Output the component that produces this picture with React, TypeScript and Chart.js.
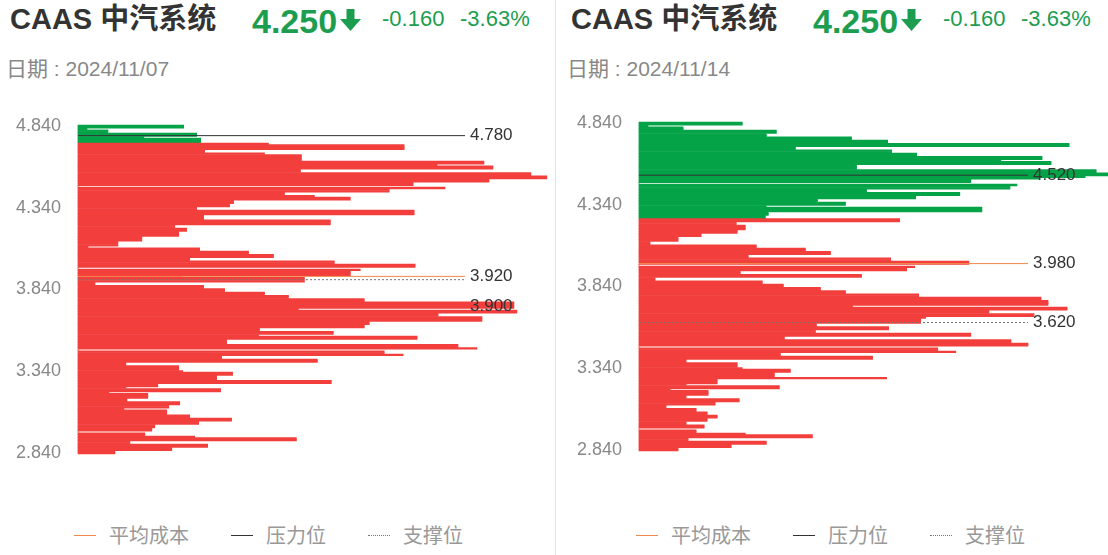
import React, { useEffect, useRef } from 'react';
import Chart from 'chart.js/auto';

// price levels run from the top row (4.84) down in steps of 0.01
const priceTop = 4.84;
const priceStep = 0.01;
const priceTicks = [2.84, 3.34, 3.84, 4.34, 4.84];
const levelNames = ['平均成本', '压力位', '支撑位'];

const stockName = 'CAAS 中汽系统';
const lastPrice = '4.250';
const priceChange = '-0.160';
const pctChange = '-3.63%';

// left panel, 2024/11/07
const leftDate = '2024/11/07';
const leftLevels = [3.92, 4.78, 3.9];
const leftSplit = 4.735;
const leftChips = [
  106, 106, 9, 30, 30, 119, 119, 66, 123, 123,
  123, 191, 327, 327, 327, 127, 127, 187, 224, 224,
  224, 224, 407, 407, 360, 416, 416, 223, 223, 454,
  454, 470, 470, 412, 412, 336, 336, 0, 368, 312,
  312, 207, 207, 237, 273, 273, 156, 156, 152, 152,
  119, 119, 337, 337, 337, 126, 126, 126, 253, 253,
  253, 97, 97, 109, 109, 101, 101, 101, 64, 64,
  64, 40, 40, 40, 10, 122, 122, 171, 171, 196,
  196, 112, 112, 257, 257, 338, 338, 0, 283, 273,
  273, 273, 104, 227, 227, 227, 17, 17, 126, 126,
  147, 147, 187, 187, 211, 211, 287, 287, 437, 437,
  437, 437, 221, 440, 440, 361, 361, 405, 405, 405,
  292, 292, 287, 287, 182, 182, 256, 256, 181, 340,
  340, 149, 149, 149, 381, 381, 400, 0, 307, 307,
  326, 144, 144, 240, 240, 48, 48, 101, 101, 101,
  105, 155, 155, 139, 139, 139, 254, 254, 80, 80,
  48, 143, 143, 31, 70, 70, 70, 49, 49, 102,
  102, 91, 91, 46, 89, 89, 89, 112, 112, 154,
  154, 121, 121, 77, 77, 74, 74, 0, 67, 67,
  117, 219, 219, 52, 52, 130, 130, 94, 94, 37,
  37,
];

// right panel, 2024/11/14
const rightDate = '2024/11/14';
const rightLevels = [3.98, 4.52, 3.62];
const rightSplit = 4.255;
const rightChips = [
  103, 103, 9, 44, 44, 137, 137, 127, 127, 212,
  212, 248, 248, 429, 429, 156, 156, 252, 252, 277,
  277, 402, 402, 361, 411, 411, 217, 217, 217, 456,
  456, 475, 475, 445, 400, 331, 331, 0, 377, 370,
  370, 227, 227, 320, 320, 276, 276, 178, 178, 206,
  206, 127, 342, 342, 342, 129, 129, 126, 126, 260,
  260, 97, 97, 106, 106, 106, 98, 98, 62, 62,
  39, 39, 39, 11, 11, 117, 117, 166, 166, 191,
  191, 109, 109, 251, 251, 329, 329, 0, 275, 267,
  267, 101, 101, 222, 222, 16, 16, 123, 123, 144,
  144, 181, 181, 206, 206, 279, 279, 401, 401, 408,
  408, 408, 213, 427, 427, 349, 349, 394, 394, 286,
  281, 281, 281, 177, 177, 249, 249, 176, 176, 331,
  331, 145, 145, 371, 371, 388, 388, 0, 298, 298,
  316, 141, 141, 233, 233, 47, 47, 98, 98, 98,
  103, 151, 151, 135, 135, 135, 247, 78, 78, 78,
  47, 140, 140, 31, 69, 69, 69, 47, 47, 100,
  100, 76, 76, 27, 27, 57, 57, 68, 68, 78,
  78, 68, 68, 47, 47, 65, 65, 0, 57, 57,
  106, 173, 173, 49, 49, 127, 127, 92, 92, 39,
  39,
];

const VOL_MAX = 388;
const GREEN = '#04a348';
const RED = '#f23f3c';
const TEXT_GREEN = '#1c9d4f';
const LINE_COLORS = ['#f0884c', '#333333', '#777777'];
const NUM_FONT = '"Liberation Sans", Arial, "Noto Sans CJK SC", sans-serif';

interface ChipChartProps {
  chips: number[];
  levels: number[];
  split: number;
  axisWidth: number;
  padRight: number;
  width: number;
}

const ChipChart: React.FC<ChipChartProps> = ({ chips, levels, split, axisWidth, padRight, width }) => {
  const canvasRef = useRef<HTMLCanvasElement>(null);

  useEffect(() => {
    if (!canvasRef.current) return;
    const prices = chips.map((_, i) => Number((priceTop - i * priceStep).toFixed(2)));

    // value labels at the right end of the level lines, nudged apart when they collide
    const levelLabels = {
      id: 'levelLabels',
      afterDatasetsDraw(chart: any) {
        const { ctx, chartArea, scales } = chart;
        const items = levels
          .map(p => ({ text: p.toFixed(3), y: scales.y.getPixelForValue(p) }))
          .sort((a, b) => a.y - b.y);
        let prev = -1000;
        ctx.save();
        ctx.font = '17px ' + NUM_FONT;
        ctx.fillStyle = '#333';
        ctx.textBaseline = 'middle';
        items.forEach(it => {
          let y = it.y;
          if (y - prev < 22) y = prev + 30;
          ctx.fillText(it.text, chartArea.right + 5, y);
          prev = y;
        });
        ctx.restore();
      },
    };

    const chart = new Chart(canvasRef.current, {
      type: 'bar',
      data: {
        datasets: [
          ...levels.map((p, i) => ({
            type: 'line' as const,
            label: levelNames[i],
            data: [{ x: 0, y: p }, { x: VOL_MAX, y: p }],
            borderColor: LINE_COLORS[i],
            borderWidth: 1,
            borderDash: i === 2 ? [2, 2] : [],
            pointRadius: 0,
            order: 0,
          })),
          {
            type: 'bar' as const,
            label: 'chips',
            data: chips.map((v, i) => ({ x: v, y: prices[i] })),
            backgroundColor: prices.map(p => (p > split ? GREEN : RED)),
            borderWidth: 0,
            barPercentage: 1,
            categoryPercentage: 1,
            clip: false as any,
            order: 10,
          },
        ],
      } as any,
      options: {
        indexAxis: 'y',
        responsive: false,
        animation: false,
        layout: { padding: { top: 25, bottom: 16, right: padRight, left: 0 } },
        scales: {
          x: { type: 'linear', min: 0, max: VOL_MAX, display: false },
          y: {
            type: 'linear',
            min: 2.835,
            max: 4.845,
            offset: false,
            grid: { display: false, drawTicks: false, offset: false },
            border: { display: false },
            afterBuildTicks: (axis: any) => {
              axis.ticks = priceTicks.map(value => ({ value }));
            },
            afterFit: (axis: any) => {
              axis.width = axisWidth;
              axis.paddingTop = 0;
              axis.paddingBottom = 0;
            },
            ticks: {
              padding: 17,
              color: '#888',
              font: { family: NUM_FONT, size: 18 },
              callback: (v: any) => Number(v).toFixed(3),
            },
          },
        },
        plugins: { legend: { display: false }, tooltip: { enabled: false } },
      } as any,
      plugins: [levelLabels],
    });
    return () => chart.destroy();
  }, [chips, levels, split, axisWidth, padRight]);

  return <canvas ref={canvasRef} width={width} height={370} />;
};

const DownArrow: React.FC = () => (
  <svg width="21" height="22" viewBox="0 0 21 22">
    <rect x="6.5" y="0" width="8" height="11" fill={TEXT_GREEN} />
    <polygon points="0,10 21,10 10.5,22" fill={TEXT_GREEN} />
  </svg>
);

const abs = (left: number, top: number, extra: React.CSSProperties = {}): React.CSSProperties => ({
  position: 'absolute',
  left,
  top,
  lineHeight: 1,
  whiteSpace: 'nowrap',
  ...extra,
});

interface PanelProps {
  left: number;
  width: number;
  shift: number;
  chartTop: number;
  date: string;
  chips: number[];
  levels: number[];
  split: number;
  axisWidth: number;
  padRight: number;
  legendLeft: number;
}

const Panel: React.FC<PanelProps> = p => (
  <div style={{ position: 'absolute', left: p.left, top: 0, width: p.width, height: 555, overflow: 'hidden' }}>
    <div style={abs(p.shift + 10, 5, { fontFamily: NUM_FONT, fontSize: 29, fontWeight: 'bold', color: '#333' })}>
      {stockName}
    </div>
    <div style={abs(p.shift + 252, 4, { fontFamily: NUM_FONT, fontSize: 34, fontWeight: 'bold', color: TEXT_GREEN })}>
      {lastPrice}
    </div>
    <div style={abs(p.shift + 340, 9)}>
      <DownArrow />
    </div>
    <div style={abs(p.shift + 382, 8, { fontFamily: NUM_FONT, fontSize: 22, color: TEXT_GREEN })}>{priceChange}</div>
    <div style={abs(p.shift + 460, 8, { fontFamily: NUM_FONT, fontSize: 22, color: TEXT_GREEN })}>{pctChange}</div>
    <div style={abs(p.shift + 6, 58, { fontFamily: NUM_FONT, fontSize: 21, color: '#888' })}>日期 : {p.date}</div>
    <div style={{ position: 'absolute', left: 0, top: p.chartTop }}>
      <ChipChart
        chips={p.chips}
        levels={p.levels}
        split={p.split}
        axisWidth={p.axisWidth}
        padRight={p.padRight}
        width={p.width}
      />
    </div>
    <div
      style={{
        position: 'absolute',
        left: p.legendLeft,
        top: 524,
        display: 'flex',
        alignItems: 'center',
        fontFamily: '"Noto Sans CJK SC", sans-serif',
        fontSize: 20,
        lineHeight: '22px',
        color: '#999',
      }}
    >
      {levelNames.map((name, i) => (
        <div key={name} style={{ display: 'flex', alignItems: 'center', marginRight: 42 }}>
          <span
            style={{
              display: 'inline-block',
              width: 22,
              borderTop: `1px ${i === 2 ? 'dotted' : 'solid'} ${LINE_COLORS[i]}`,
              marginRight: 13,
            }}
          />
          <span>{name}</span>
        </div>
      ))}
    </div>
  </div>
);

const App: React.FC = () => (
  <div style={{ position: 'relative', width: 1108, height: 555, background: '#fff', overflow: 'hidden' }}>
    <style>{'body{margin:0}'}</style>
    <Panel
      left={0}
      width={555}
      shift={0}
      chartTop={100}
      date={leftDate}
      chips={leftChips}
      levels={leftLevels}
      split={leftSplit}
      axisWidth={78}
      padRight={90}
      legendLeft={74}
    />
    <div style={{ position: 'absolute', left: 555, top: 0, width: 1, height: 555, background: '#e2e2e2' }} />
    <Panel
      left={556}
      width={552}
      shift={5}
      chartTop={97}
      date={rightDate}
      chips={rightChips}
      levels={rightLevels}
      split={rightSplit}
      axisWidth={83}
      padRight={80}
      legendLeft={80}
    />
  </div>
);

export default App;
